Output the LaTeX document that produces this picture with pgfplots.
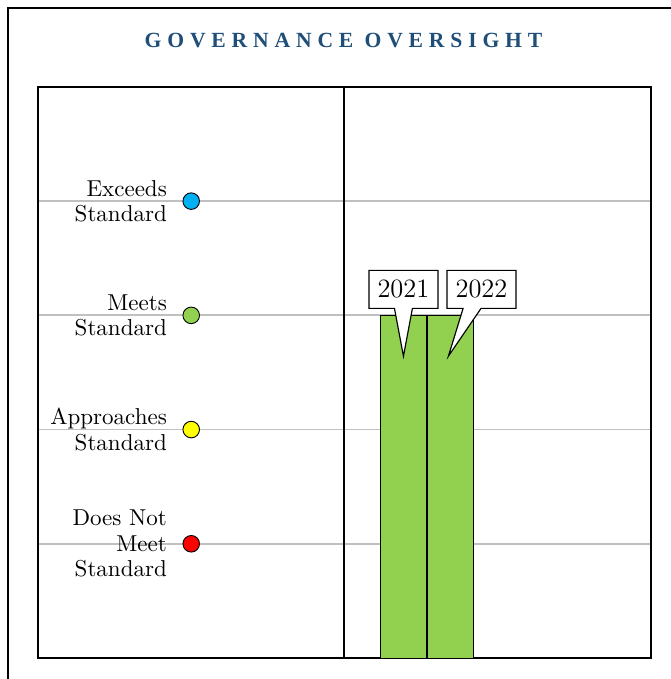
\documentclass[border=0pt]{standalone}
\usepackage{pgfplots}
\pgfplotsset{compat=1.18}
\usepackage{fontspec}
\usetikzlibrary{shapes.callouts}
\newfontfamily\titlefont{Liberation Serif}[LetterSpace=27]
\definecolor{titleblue}{HTML}{1F4E79}
\definecolor{cyanm}{HTML}{00B0F0}
\definecolor{greenm}{HTML}{92D050}
\definecolor{yellowm}{HTML}{FFFF00}
\definecolor{redm}{HTML}{FF0000}
\definecolor{gridgray}{HTML}{C0C0C0}
\begin{document}
\begin{tikzpicture}[x=0.4348pt,y=0.4348pt]
\useasboundingbox (0,0) rectangle (671,679);
\draw[line width=0.8pt] (8,0) -- (8,671) -- (671,671);
\node[font=\titlefont\bfseries\fontsize{9.4}{11}\selectfont, text=titleblue] at (343.5,638) {GOVERNANCE OVERSIGHT};
\begin{axis}[
  at={(16.52pt,9.13pt)}, anchor=south west,
  width=266.5pt, height=248.3pt, scale only axis,
  xmin=0, xmax=2, ymin=0, ymax=5,
  axis line style={line width=0.85pt},
  ytick={1,2,3,4}, yticklabels={},
  xtick=\empty,
  major tick length=0pt,
  ymajorgrids,
  major grid style={gridgray, line width=0.8pt},
  extra x ticks={1}, extra x tick labels={},
  extra x tick style={grid=major, major grid style={black, line width=0.85pt}},
  clip=false,
]
% bars
\addplot[ybar, bar width=20.4pt, bar shift=0pt, fill=greenm, draw=black, line width=0.4pt,
  nodes near coords={2021},
  every node near coord/.append style={rectangle callout, draw=black, fill=white, line width=0.5pt,
    anchor=center, yshift=11.3pt, inner sep=0pt, minimum width=30pt, minimum height=16.5pt,
    callout relative pointer={(0pt,-20.8pt)}, callout pointer width=7.8pt,
    font=\fontsize{11.5}{13}\selectfont, text=black}]
  coordinates {(1.1925,3)};
\addplot[ybar, bar width=20.4pt, bar shift=0pt, fill=greenm, draw=black, line width=0.4pt,
  nodes near coords={2022},
  every node near coord/.append style={rectangle callout, draw=black, fill=white, line width=0.5pt,
    anchor=center, xshift=13.5pt, yshift=11.3pt, inner sep=0pt, minimum width=30pt, minimum height=16.5pt,
    callout relative pointer={(-10.3pt,-20.8pt)}, callout pointer width=7.8pt,
    font=\fontsize{11.5}{13}\selectfont, text=black}]
  coordinates {(1.3458,3)};
% level markers with labels
\pgfplotsset{lvl/.style={only marks, mark=*, mark size=3.6pt,
  mark options={fill=#1, draw=black, line width=0.4pt},
  point meta=explicit symbolic, nodes near coords,
  every node near coord/.append style={anchor=east, align=right, inner sep=0pt, xshift=-10.4pt,
    font=\fontsize{10}{11.1}\selectfont, text=black}}}
\addplot[lvl=cyanm] coordinates {(0.5,4) [Exceeds\\Standard]};
\addplot[lvl=greenm] coordinates {(0.5,3) [Meets\\Standard]};
\addplot[lvl=yellowm] coordinates {(0.5,2) [Approaches\\Standard]};
\addplot[lvl=redm] coordinates {(0.5,1) [Does Not\\Meet\\Standard]};
\end{axis}
\end{tikzpicture}
\end{document}
